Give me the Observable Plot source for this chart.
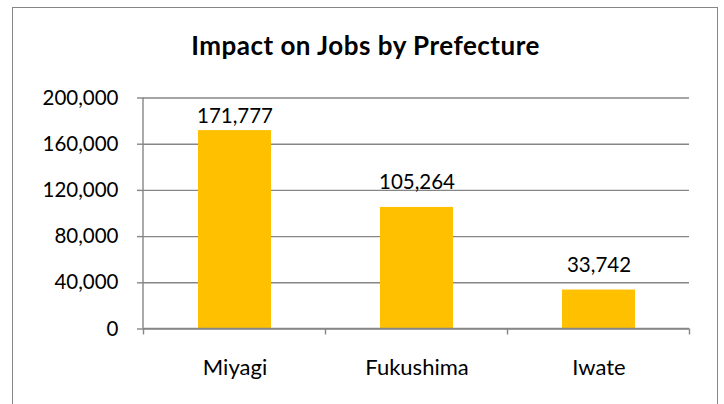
<!DOCTYPE html>
<html>
<head>
<meta charset="utf-8">
<script src="https://cdn.jsdelivr.net/npm/d3@7"></script>
<script src="https://cdn.jsdelivr.net/npm/@observablehq/plot@0.6"></script>
<style>
  html, body { margin: 0; padding: 0; background: #fff; overflow: hidden; }
  #wrap { position: relative; width: 724px; height: 404px; overflow: hidden; font-family: Lato, "Open Sans", sans-serif; }
  #border { position: absolute; left: 12px; top: 7px; width: 706px; height: 410px; border: 1px solid #868686; box-sizing: border-box; }
  #title { position: absolute; left: 12px; width: 707px; top: 30px; line-height: 30px; text-align: center; font-size: 26px; letter-spacing: 0.5px; font-weight: bold; color: #000; }
  #chart { position: absolute; left: 0; top: 0; }
</style>
</head>
<body>
<div id="wrap">
  <div id="border"></div>
  <div id="title">Impact on Jobs by Prefecture</div>
  <div id="chart"></div>
</div>
<script>
const prefectures = ["Miyagi", "Fukushima", "Iwate"];
const jobs = [171777, 105264, 33742];
const yTicks = [0, 40000, 80000, 120000, 160000, 200000];

const data = prefectures.map((p, i) => ({prefecture: p, jobs: jobs[i]}));
const fmt = d3.format(",");
const gray = "#868686";
const labelStyle = {x: "prefecture", y: "jobs", text: d => fmt(d.jobs), lineAnchor: "bottom", fill: "#000", fontSize: 20.5};

const plot = Plot.plot({
  width: 724,
  height: 404,
  marginLeft: 143,
  marginRight: 35,
  marginTop: 97.5,
  marginBottom: 75.5,
  style: {fontFamily: "Lato, 'Open Sans', sans-serif", fontSize: "20px", color: "#000", background: "transparent", overflow: "visible"},
  x: {domain: prefectures, paddingInner: 0.6, paddingOuter: 0.3, label: null},
  y: {domain: [0, 200000], label: null},
  marks: [
    Plot.gridY(yTicks, {stroke: gray, strokeOpacity: 1, strokeWidth: 1.4}),
    Plot.barY(data, {x: "prefecture", y: "jobs", fill: "#FFC000"}),
    // the tallest label sits closer to its bar (kept inside the plot area in the original)
    Plot.text(data, {...labelStyle, filter: (d, i) => i === 0, dy: -8}),
    Plot.text(data, {...labelStyle, filter: (d, i) => i !== 0, dy: -18}),
    Plot.axisY(yTicks, {tickFormat: fmt, tickSize: 6, tickPadding: 19, stroke: gray, strokeWidth: 1.4, fontSize: 20.5, fill: "#000", label: null}),
    Plot.axisX({tickSize: 0, tickPadding: 30, fontSize: 22, fill: "#000", label: null})
  ]
});
document.getElementById("chart").appendChild(plot);

// Axis lines and category boundary ticks, positioned from the plot's own scales
const sx = plot.scale("x"), sy = plot.scale("y");
const svg = d3.select(plot);
const y0 = sy.apply(0), yTop = sy.apply(200000);
const x0 = sx.range[0], x1 = sx.range[1];
const g = svg.append("g").attr("stroke", gray).attr("stroke-width", 1.4).attr("fill", "none");
g.append("line").attr("x1", x0).attr("x2", x0).attr("y1", yTop).attr("y2", y0);
g.append("line").attr("x1", x0).attr("x2", x1).attr("y1", y0).attr("y2", y0);
const half = (sx.step - sx.bandwidth) / 2;
const bounds = prefectures.map(p => sx.apply(p) - half).concat([sx.apply(prefectures[prefectures.length - 1]) + sx.bandwidth + half]);
bounds.forEach(b => g.append("line").attr("x1", b).attr("x2", b).attr("y1", y0).attr("y2", y0 + 6));
</script>
</body>
</html>
